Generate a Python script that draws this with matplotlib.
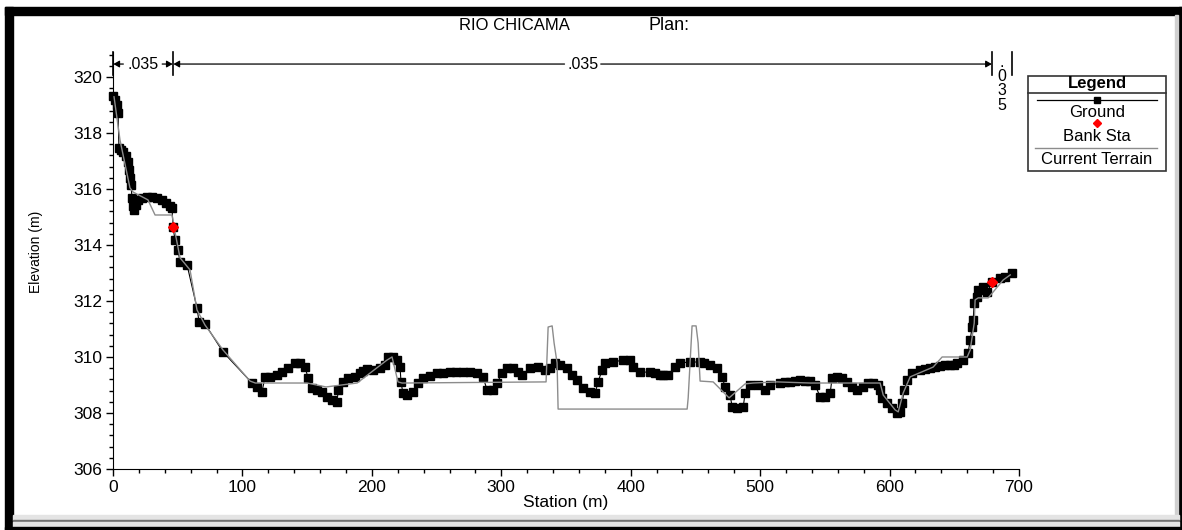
import matplotlib
matplotlib.use("Agg")
import matplotlib.pyplot as plt
from matplotlib.patches import Rectangle
from matplotlib.lines import Line2D
from matplotlib.ticker import MultipleLocator

plt.rcParams['font.family'] = ['Liberation Sans', 'DejaVu Sans']

# ground survey points (station m, elevation m)
ground_sta = [0.0, 1.5, 3.1, 3.9, 4.6, 6.2, 7.7, 10.0, 11.6, 12.4, 13.1, 13.9, 14.7, 15.5,
              16.2, 17.8, 19.3, 22.4, 26.3, 30.1, 34.0, 37.9, 41.0, 44.0, 45.6, 46.4, 47.9,
              50.2, 51.8, 57.2, 64.9, 66.5, 71.1, 85.0, 107.4, 111.3, 115.1, 117.5, 121.3,
              126.7, 130.6, 135.2, 140.6, 144.5, 148.4, 150.7, 153.8, 157.7, 161.5, 165.4,
              169.2, 173.1, 174.0, 177.7, 181.6, 187.0, 190.9, 193.5, 196.3, 200.9, 206.3,
              210.2, 212.5, 216.4, 219.5, 221.8, 222.5, 224.0, 227.2, 231.8, 235.7, 239.6,
              245.0, 250.4, 255.0, 260.4, 265.0, 270.5, 276.0, 281.3, 285.9, 289.0, 293.7,
              296.8, 300.6, 304.5, 309.1, 313.0, 316.1, 322.3, 328.4, 333.8, 337.7, 341.6,
              345.4, 350.9, 354.7, 358.6, 363.2, 368.6, 372.5, 374.8, 377.9, 380.2, 386.4,
              394.1, 399.5, 401.9, 407.3, 415.0, 419.0, 422.7, 425.0, 428.9, 434.3, 438.2,
              445.9, 453.6, 457.0, 461.4, 466.8, 470.6, 472.9, 476.8, 478.4, 482.2, 486.9,
              488.4, 492.3, 498.5, 503.9, 507.7, 515.5, 519.0, 523.2, 527.0, 530.9, 535.0,
              538.6, 542.5, 546.4, 550.2, 554.1, 555.6, 559.5, 563.4, 567.2, 571.1, 575.0,
              579.6, 583.5, 587.3, 591.2, 592.7, 594.3, 598.1, 602.0, 605.9, 608.2, 609.7,
              611.3, 613.6, 617.5, 623.6, 627.0, 631.4, 635.0, 639.1, 643.0, 646.8, 650.0,
              652.2, 656.9, 660.7, 662.3, 663.8, 664.6, 665.4, 667.7, 668.5, 672.3, 675.4,
              679.3, 685.5, 689.3, 694.7]
ground_elev = [319.32, 319.18, 319.0, 318.71, 317.46, 317.39, 317.32, 317.18, 316.96, 316.68,
               316.39, 316.14, 315.68, 315.39, 315.25, 315.43, 315.61, 315.68, 315.71, 315.71,
               315.68, 315.61, 315.5, 315.39, 315.32, 314.64, 314.18, 313.82, 313.39, 313.29,
               311.75, 311.25, 311.18, 310.18, 309.07, 308.93, 308.75, 309.29, 309.29, 309.36,
               309.46, 309.61, 309.79, 309.79, 309.64, 309.25, 308.89, 308.82, 308.75, 308.57,
               308.46, 308.39, 308.82, 309.11, 309.25, 309.29, 309.43, 309.5, 309.57, 309.54,
               309.61, 309.71, 310.0, 310.0, 309.89, 309.64, 309.11, 308.71, 308.64, 308.75,
               309.07, 309.25, 309.32, 309.43, 309.43, 309.46, 309.46, 309.46, 309.46, 309.43,
               309.29, 308.82, 308.82, 309.07, 309.43, 309.61, 309.61, 309.46, 309.36, 309.61,
               309.64, 309.54, 309.61, 309.79, 309.71, 309.61, 309.36, 309.18, 308.89, 308.75,
               308.71, 309.11, 309.54, 309.79, 309.82, 309.89, 309.89, 309.64, 309.46, 309.46,
               309.43, 309.36, 309.36, 309.36, 309.64, 309.79, 309.82, 309.82, 309.8, 309.71,
               309.61, 309.29, 308.93, 308.64, 308.21, 308.18, 308.21, 308.71, 309.0, 309.0,
               308.82, 309.0, 309.07, 309.1, 309.11, 309.14, 309.18, 309.16, 309.14, 309.0,
               308.57, 308.57, 308.71, 309.25, 309.29, 309.25, 309.11, 308.93, 308.82, 308.93,
               309.07, 309.07, 309.0, 308.82, 308.54, 308.36, 308.18, 308.0, 308.04, 308.36,
               308.82, 309.18, 309.43, 309.54, 309.57, 309.61, 309.64, 309.68, 309.7, 309.71,
               309.72, 309.79, 309.89, 310.14, 310.61, 311.07, 311.32, 311.93, 312.14, 312.39,
               312.5, 312.32, 312.68, 312.82, 312.86, 313.0]

# current terrain profile
terrain_sta = [0.8, 5.4, 13.1, 15.5, 27.0, 32.5, 45.6, 47.9, 51.8, 59.5, 64.9, 71.1, 85.0,
               105.9, 110.0, 150.0, 164.6, 188.6, 211.7, 215.6, 220.2, 223.3, 334.6, 336.2,
               339.3, 340.8, 343.1, 343.9, 443.6, 444.4, 447.4, 450.5, 452.1, 453.6, 463.7,
               476.0, 488.4, 494.6, 513.1, 538.6, 592.7, 595.1, 604.3, 606.7, 610.5, 615.9,
               633.7, 640.6, 660.0, 662.3, 665.4, 666.1, 668.5, 676.2, 687.8, 693.2]
terrain_elev = [319.29, 317.75, 316.04, 315.89, 315.61, 315.07, 315.07, 314.46, 313.54,
                313.11, 311.68, 311.14, 310.25, 309.14, 309.07, 309.07, 308.93, 309.07,
                309.89, 310.0, 309.11, 309.07, 309.11, 311.07, 311.11, 310.5, 309.79, 308.14,
                308.14, 308.54, 311.11, 311.11, 310.5, 309.14, 309.11, 308.54, 309.04, 309.07,
                309.11, 309.07, 309.07, 308.64, 308.11, 308.04, 308.71, 309.29, 309.64, 310.0,
                310.0, 310.25, 311.21, 312.04, 312.11, 312.11, 312.75, 312.93]

bank_sta = [46.4, 679.3]
bank_elev = [314.64, 312.68]

n_breaks = [0.0, 46.4, 679.3, 694.7]
n_values = [".035", ".035", ".035"]

W, H = 1182, 530


def fx(x):
    return x / W


def fy(y):
    return 1 - y / H


fig = plt.figure(figsize=(W / 100, H / 100), dpi=100)
fig.patch.set_facecolor("white")

# window frame
frame = [((5, 7), 1177, 8, "black"), ((5, 7), 8, 523, "black"),
         ((1179, 7), 3, 523, "black"), ((1175, 15), 3, 505, "#d0d0d0"),
         ((13, 515), 1166, 5, "#e4e4e4"), ((13, 520), 1166, 2, "#707070"),
         ((13, 522), 1166, 5, "#e4e4e4"), ((5, 527), 1177, 3, "black")]
for (x0, y0), w, h, c in frame:
    fig.patches.append(Rectangle((fx(x0), fy(y0 + h)), w / W, h / H,
                                 transform=fig.transFigure, color=c, zorder=0))

ax = fig.add_axes([fx(113), fy(469), fx(1019) - fx(113), fy(52) - fy(469)])
ax.set_xlim(0, 700)
ax.set_ylim(306, 320.89)

ax.plot(ground_sta, ground_elev, color="black", lw=0.8, marker="s", ms=5.5,
        mec="black", mfc="black", zorder=3, clip_on=False)
ax.plot(terrain_sta, terrain_elev, color="#8c8c8c", lw=1.0, zorder=4)
ax.plot(bank_sta, bank_elev, ls="none", marker="D", ms=5, color="red", zorder=5)

for s in ["top", "right"]:
    ax.spines[s].set_visible(False)
ax.xaxis.set_major_locator(MultipleLocator(100))
ax.xaxis.set_minor_locator(MultipleLocator(20))
ax.set_yticks(range(306, 321, 2))
ax.yaxis.set_minor_locator(MultipleLocator(0.4))
ax.tick_params(which="major", direction="out", length=5, width=1, labelsize=12.5, pad=3)
ax.tick_params(which="minor", direction="out", length=3, width=1)

ax.set_xlabel("Station (m)", fontsize=12.5)
ax.xaxis.set_label_coords(0.5, -0.063)
ax.set_ylabel("Elevation (m)", fontsize=10)
ax.yaxis.set_label_coords(-0.077, 0.52)

fig.text(fx(514), fy(25), "RIO CHICAMA", ha="center", va="center", fontsize=12)
fig.text(fx(648), fy(25), "Plan:", ha="left", va="center", fontsize=13)

# Manning's n annotation above the profile
y_top, y_bar, y_arr = 320.89, 320.07, 320.46
for s in n_breaks:
    ax.plot([s, s], [y_bar, y_top], color="black", lw=1.2, clip_on=False)
arr = dict(arrowstyle="-|>,head_length=0.35,head_width=0.2", color="black", lw=0.9,
           shrinkA=0, shrinkB=0)
ax.annotate("", xy=(0.3, y_arr), xytext=(8, y_arr), arrowprops=arr, annotation_clip=False)
ax.annotate("", xy=(46.1, y_arr), xytext=(38, y_arr), arrowprops=arr, annotation_clip=False)
ax.text(23.2, y_arr, n_values[0], ha="center", va="center", fontsize=11.5)
mid = (n_breaks[1] + n_breaks[2]) / 2
ax.annotate("", xy=(46.7, y_arr), xytext=(mid - 14, y_arr), arrowprops=arr,
            annotation_clip=False)
ax.annotate("", xy=(679.0, y_arr), xytext=(mid + 14, y_arr), arrowprops=arr,
            annotation_clip=False)
ax.text(mid, y_arr, n_values[1], ha="center", va="center", fontsize=11.5)
ax.text((n_breaks[2] + n_breaks[3]) / 2, 320.8, "\n".join(n_values[2]), ha="center",
        va="top", fontsize=11.5, linespacing=0.95)

# legend box
fig.patches.append(Rectangle((fx(1028), fy(171)), (1166 - 1028) / W, (171 - 76) / H,
                             transform=fig.transFigure, fill=False, ec="#333333", lw=1.2))
fig.text(fx(1097), fy(88), "Legend", ha="center", va="baseline", fontsize=12, weight="bold")
fig.lines.append(Line2D([fx(1028), fx(1166)], [fy(93), fy(93)], transform=fig.transFigure,
                        color="#333333", lw=1.2))
fig.lines.append(Line2D([fx(1037), fx(1157)], [fy(100), fy(100)], transform=fig.transFigure,
                        color="black", lw=0.9))
fig.lines.append(Line2D([fx(1097)], [fy(100)], transform=fig.transFigure, marker="s",
                        ms=5, color="black"))
fig.text(fx(1097), fy(117), "Ground", ha="center", va="baseline", fontsize=12)
fig.lines.append(Line2D([fx(1097)], [fy(122.5)], transform=fig.transFigure, marker="D",
                        ms=4, color="red"))
fig.text(fx(1097), fy(141), "Bank Sta", ha="center", va="baseline", fontsize=12)
fig.lines.append(Line2D([fx(1035), fx(1157)], [fy(148), fy(148)], transform=fig.transFigure,
                        color="#8c8c8c", lw=1.0))
fig.text(fx(1097), fy(164), "Current Terrain", ha="center", va="baseline", fontsize=12)

fig.savefig("out.png", dpi=100, facecolor="white")
